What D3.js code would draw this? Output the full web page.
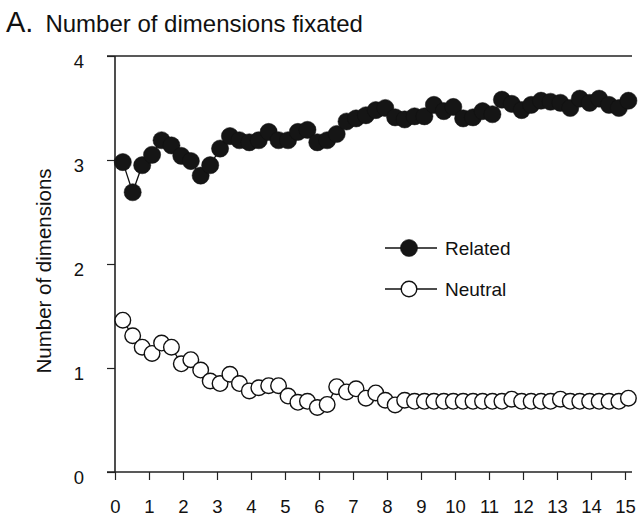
<!DOCTYPE html>
<html>
<head>
<meta charset="utf-8">
<script src="https://cdn.jsdelivr.net/npm/d3@7"></script>
<style>
  body { margin: 0; background: #fff; }
  svg { display: block; font-family: "Liberation Sans", Arial, Helvetica, sans-serif; }
</style>
</head>
<body>
<script>
// time bins (x)
const bins = [0.23, 0.52, 0.80, 1.09, 1.37, 1.66, 1.95, 2.23, 2.52, 2.80,
  3.09, 3.38, 3.66, 3.95, 4.23, 4.52, 4.81, 5.09, 5.38, 5.66,
  5.95, 6.24, 6.52, 6.81, 7.09, 7.38, 7.67, 7.95, 8.24, 8.52,
  8.81, 9.10, 9.38, 9.67, 9.95, 10.24, 10.53, 10.81, 11.10, 11.38,
  11.67, 11.96, 12.24, 12.53, 12.81, 13.10, 13.39, 13.67, 13.96, 14.24,
  14.53, 14.82, 15.10];

const related = [2.98, 2.69, 2.95, 3.05, 3.19, 3.14, 3.04, 2.99, 2.85, 2.95,
  3.11, 3.23, 3.19, 3.17, 3.19, 3.27, 3.19, 3.19, 3.27, 3.29,
  3.17, 3.19, 3.25, 3.37, 3.40, 3.43, 3.48, 3.50, 3.41, 3.39,
  3.42, 3.42, 3.53, 3.47, 3.51, 3.40, 3.41, 3.47, 3.44, 3.58,
  3.54, 3.48, 3.53, 3.57, 3.56, 3.55, 3.50, 3.59, 3.55, 3.59,
  3.53, 3.50, 3.57];

const neutral = [1.46, 1.31, 1.20, 1.14, 1.24, 1.20, 1.04, 1.08, 0.98, 0.875,
  0.85, 0.94, 0.85, 0.78, 0.81, 0.83, 0.83, 0.73, 0.67, 0.68,
  0.62, 0.65, 0.82, 0.77, 0.80, 0.71, 0.76, 0.69, 0.645, 0.69,
  0.68, 0.68, 0.68, 0.68, 0.68, 0.68, 0.68, 0.68, 0.68, 0.68,
  0.70, 0.68, 0.68, 0.68, 0.68, 0.70, 0.68, 0.68, 0.68, 0.68,
  0.68, 0.68, 0.71];

const xTicks = d3.range(0, 16);
const yTicks = [0, 1, 2, 3, 4];
const seriesNames = ['Related', 'Neutral'];

const W = 640, H = 518;
const svg = d3.select('body').append('svg').attr('width', W).attr('height', H);

let x = d3.scaleLinear().domain([0, 15]).range([115, 625]);
let y = d3.scaleLinear().domain([0, 4]).range([472, 56]);

/**
 * 标题
 */
let title = svg.append('text').attr('x', 6).attr('y', 32).attr('fill', '#111');
title.append('tspan').style('font-size', '29px').text('A.');
title.append('tspan').attr('dx', 12).style('font-size', '24px').text('Number of dimensions fixated');

// y 轴标题
svg.append('text')
  .attr('transform', 'translate(51,271) rotate(-90)')
  .attr('text-anchor', 'middle')
  .style('font-size', '20.5px')
  .attr('fill', '#111')
  .text('Number of dimensions');

/**
 * 坐标轴
 */
const axisColor = '#222';
// left axis line
svg.append('line')
  .attr('x1', x(0)).attr('x2', x(0)).attr('y1', y(0)).attr('y2', y(4))
  .style('stroke', axisColor).style('stroke-width', 1.6);
// bottom + top lines
[0, 4].forEach(function (v) {
  svg.append('line')
    .attr('x1', x(0) - 8).attr('x2', x(15) + 7).attr('y1', y(v)).attr('y2', y(v))
    .style('stroke', axisColor).style('stroke-width', 1.4);
});

let xAxis = d3.axisBottom(x).tickValues(xTicks).tickSize(8).tickPadding(20).tickSizeOuter(0)
  .tickFormat(d3.format('d'));
let gx = svg.append('g').attr('transform', 'translate(0,' + y(0) + ')').call(xAxis)
  .attr('font-family', null).attr('font-size', null);
gx.select('.domain').remove();
gx.selectAll('.tick line').style('stroke', axisColor).style('stroke-width', 1.2);
gx.selectAll('.tick text').style('font-size', '18.5px').attr('fill', '#111');

let yAxis = d3.axisLeft(y).tickValues(yTicks).tickSize(8).tickPadding(23).tickSizeOuter(0)
  .tickFormat(d3.format('d'));
let gy = svg.append('g').attr('transform', 'translate(' + x(0) + ',0)').call(yAxis)
  .attr('font-family', null).attr('font-size', null);
gy.select('.domain').remove();
gy.selectAll('.tick line').style('stroke', axisColor).style('stroke-width', 1.2);
gy.selectAll('.tick text').style('font-size', '18.5px').attr('fill', '#111').attr('dy', '0.6em');

/**
 * 数据线 + 点
 */
let lineGen = d3.line().x(function (d) { return x(d[0]); }).y(function (d) { return y(d[1]); });

function drawSeries(vals, filled) {
  let pts = bins.map(function (b, i) { return [b, vals[i]]; });
  svg.append('path')
    .attr('d', lineGen(pts))
    .style('stroke', '#111').style('stroke-width', 1.3).style('fill', 'none');
  svg.append('g').selectAll('circle').data(pts).enter().append('circle')
    .attr('cx', function (d) { return x(d[0]); })
    .attr('cy', function (d) { return y(d[1]); })
    .attr('r', filled ? 8.6 : 7.8)
    .style('fill', filled ? '#151515' : '#fff')
    .style('stroke', '#111')
    .style('stroke-width', filled ? 0.5 : 1.4);
}
drawSeries(related, true);
drawSeries(neutral, false);

/**
 * 图例
 */
let legend = svg.append('g').attr('transform', 'translate(385,248)');
seriesNames.forEach(function (name, i) {
  let g = legend.append('g').attr('transform', 'translate(0,' + i * 41 + ')');
  g.append('line').attr('x1', 0).attr('x2', 52).attr('y1', 0).attr('y2', 0)
    .style('stroke', '#111').style('stroke-width', 1.3);
  g.append('circle').attr('cx', 24).attr('cy', 0).attr('r', i === 0 ? 8.6 : 7.8)
    .style('fill', i === 0 ? '#151515' : '#fff')
    .style('stroke', '#111').style('stroke-width', i === 0 ? 0.5 : 1.4);
  g.append('text').attr('x', 60).attr('y', 7).style('font-size', '19px').attr('fill', '#111').text(name);
});
</script>
</body>
</html>
